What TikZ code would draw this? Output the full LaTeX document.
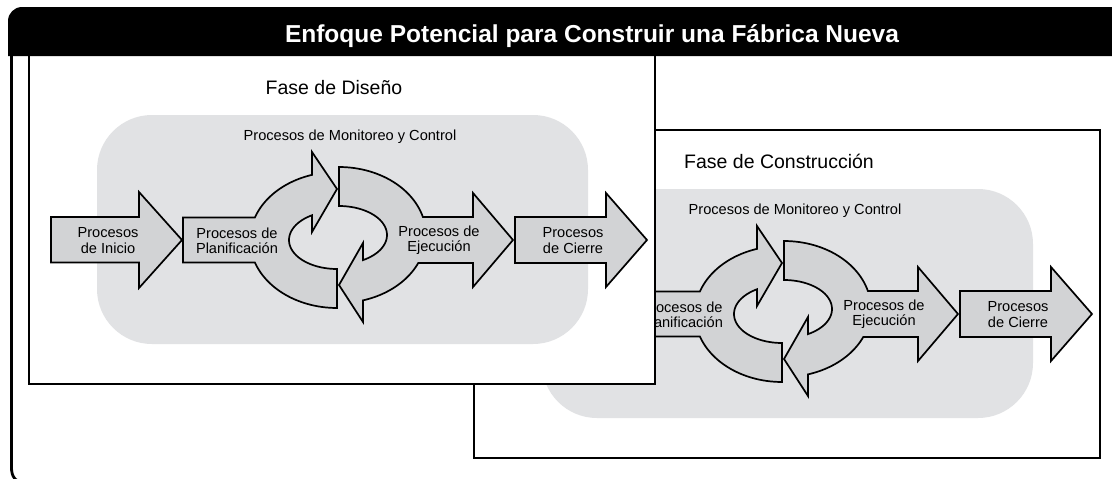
\documentclass[tikz,border=0pt]{standalone}
\usepackage{fontspec}
\setmainfont{Liberation Sans}
\definecolor{bggray}{RGB}{225,226,228}
\definecolor{arrowgray}{RGB}{210,211,213}
\tikzset{
  arr/.style={draw=black, line width=1.7pt, fill=arrowgray, line join=miter},
  lbl/.style={font=\fontsize{14.6}{15.2}\selectfont, align=center, inner sep=0pt},
  mon/.style={font=\fontsize{14.6}{17}\selectfont, inner sep=0pt},
  phase/.style={font=\fontsize{19.5}{22}\selectfont, inner sep=0pt},
  ttl/.style={font=\bfseries\fontsize{24.5}{28}\selectfont, text=white, inner sep=0pt},
  boxw/.style={draw=black, fill=white, line width=2.7pt},
  bgbox/.style={fill=bggray, rounded corners=55pt},
}
\newcommand{\procgroup}[1]{%
  \fill[bgbox] (97,115) rectangle (588,344);
  \node[mon, anchor=base] (#1mon) at (350,140) {Procesos de Monitoreo y Control};
  \begin{scope}[shift={(337,240)}]
    \draw[arr] (-154,-22.5)
      -- plot[domain=199.3:253.3,samples=30] ({87*cos(\x)},{68*sin(\x)})
      -- (-25,-88) -- (0,-51) -- (-25,-8)
      -- plot[domain=-238.6:-90,samples=40] ({48*cos(-\x)},{29*sin(-\x)})
      -- plot[domain=90:160.7,samples=30] ({87*cos(\x)},{68*sin(\x)})
      -- (-154,22.5) -- cycle;
  \end{scope}
  \node[lbl] (#1plan) at (237,240.5) {Procesos de\\Planificación};
  \begin{scope}[shift={(339,235)}]
    \draw[arr] (0,-68)
      -- plot[domain=-90:-15.3,samples=30] ({87*cos(\x)},{68*sin(\x)})
      -- (134,-18) -- (134,-42) -- (174,5) -- (134,52) -- (134,28)
      -- plot[domain=24.3:74,samples=30] ({87*cos(\x)},{68*sin(\x)})
      -- (24,87) -- (0,50) -- (24,8)
      -- plot[domain=-60:90,samples=40] ({48*cos(-\x)},{29*sin(-\x)})
      -- cycle;
  \end{scope}
  \node[lbl] (#1ejec) at (439,240.5) {Procesos de\\Ejecución};
  \draw[arr] (515,217) -- (606,217) -- (606,193) -- (647,240) -- (606,287) -- (606,263) -- (515,263) -- cycle;
  \node[lbl] (#1cierre) at (573,240.5) {Procesos\\de Cierre};
}
\begin{document}
\begin{tikzpicture}[x=1pt,y=-1pt]
\useasboundingbox (0,0) rectangle (1112,479);
\clip (0,0) rectangle (1112,479);
\fill[white] (0,0) rectangle (1112,479);
% construction phase
\draw[boxw] (474,130) rectangle (1100,458);
\node[phase, anchor=base] (cphase) at (779,168) {Fase de Construcción};
\begin{scope}[shift={(445,74)}]
  \procgroup{c}
\end{scope}
% design phase
\draw[boxw] (29,50) rectangle (655,384);
\node[phase, anchor=base] (dphase) at (334,94) {Fase de Diseño};
\procgroup{d}
\draw[arr] (51,217) -- (139,217) -- (139,192) -- (182,240) -- (139,288) -- (139,262.5) -- (51,262.5) -- cycle;
\node[lbl] (dinicio) at (108,240.5) {Procesos\\de Inicio};
% header and frame
\fill[black] (8,56) -- (8,21) .. controls (8,13.3) and (14.3,7) .. (22,7) -- (1125,7) -- (1125,56) -- cycle;
\draw[line width=2.8pt] (11.5,56) -- (11.5,468) .. controls (11.5,476) and (15,483) .. (26.5,483);
\node[ttl, anchor=base] (title) at (592,42) {Enfoque Potencial para Construir una Fábrica Nueva};
\end{tikzpicture}
\end{document}
